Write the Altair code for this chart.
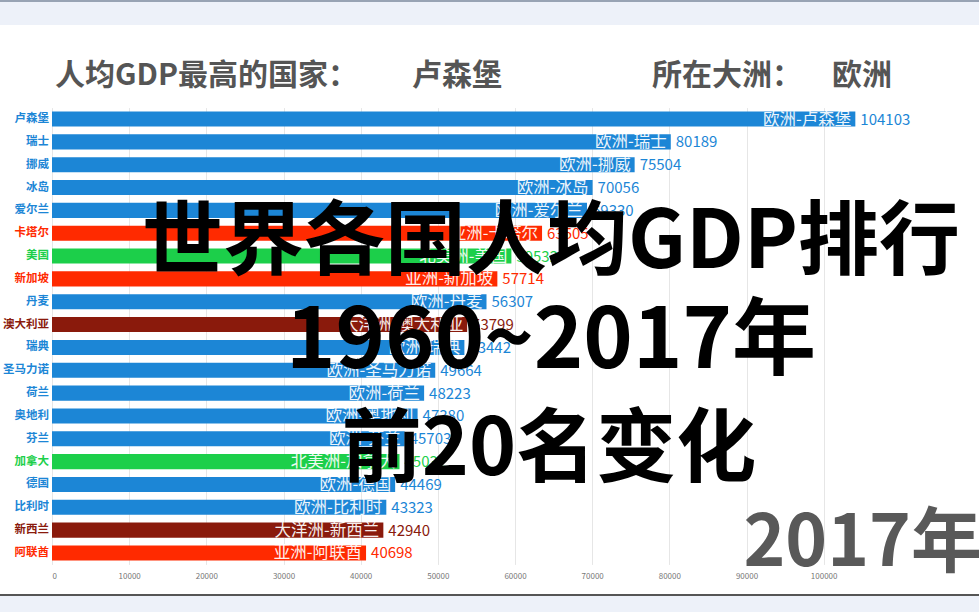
import altair as alt
import pandas as pd

countries = ["卢森堡", "瑞士", "挪威", "冰岛", "爱尔兰", "卡塔尔", "美国", "新加坡", "丹麦", "澳大利亚",
             "瑞典", "圣马力诺", "荷兰", "奥地利", "芬兰", "加拿大", "德国", "比利时", "新西兰", "阿联酋"]
values = [104103, 80189, 75504, 70056, 69330, 63505, 59532, 57714, 56307, 53799,
          53442, 49664, 48223, 47380, 45703, 45032, 44469, 43323, 42940, 40698]
continents = ["欧洲", "欧洲", "欧洲", "欧洲", "欧洲", "亚洲", "北美洲", "亚洲", "欧洲", "大洋洲",
              "欧洲", "欧洲", "欧洲", "欧洲", "欧洲", "北美洲", "欧洲", "欧洲", "大洋洲", "亚洲"]
continent_names = ["欧洲", "亚洲", "北美洲", "大洋洲"]
continent_colors = ["#1c86d6", "#ff2a00", "#1ccf4a", "#8a1a0c"]
x_ticks = [0, 10000, 20000, 30000, 40000, 50000, 60000, 70000, 80000, 90000, 100000]

df = pd.DataFrame({"country": countries, "value": values, "continent": continents})
df["label"] = df["continent"] + "-" + df["country"]

FONT = "Noto Sans CJK SC"
OX, OY = 52, 107.6
W, H = 926, 456.8

color = alt.Color("continent:N", scale=alt.Scale(domain=continent_names, range=continent_colors), legend=None)
y = alt.Y("country:N", sort=countries, axis=None,
          scale=alt.Scale(paddingInner=0.34, paddingOuter=0.17))
x = alt.X("value:Q", scale=alt.Scale(domain=[0, 120000], nice=False),
          axis=alt.Axis(values=x_ticks, title=None, domain=False, ticks=False, grid=True, format="d",
                        gridColor="#e6e6e6", labelFontSize=8, labelColor="#777777",
                        labelPadding=8, labelFont=FONT))

base = alt.Chart(df)
bars = base.mark_bar().encode(x=x, y=y, color=color)
inner = base.mark_text(align="right", dx=-4, dy=0.5, fontSize=16.5, font=FONT, color="#ffffff", opacity=0.92).encode(
    x="value:Q", y=y, text="label:N")
vals = base.mark_text(align="left", dx=5, dy=0.5, fontSize=15, font=FONT).encode(
    x="value:Q", y=y, text="value:Q", color=color)
ylabels = base.mark_text(align="right", fontSize=11.5, font=FONT, fontWeight="bold").encode(
    x=alt.value(-3), y=y, text="country:N", color=color)

one = pd.DataFrame({"k": [0]})

def rect(x1, x2, y1, y2, fill):
    return alt.Chart(one).mark_rect(color=fill).encode(
        x=alt.value(x1 - OX), x2=alt.value(x2 - OX), y=alt.value(y1 - OY), y2=alt.value(y2 - OY))

def txt(s, ax, ay, size, col, align="left", weight="bold"):
    return alt.Chart(pd.DataFrame({"t": [s]})).mark_text(
        align=align, baseline="alphabetic", fontSize=size, font=FONT, fontWeight=weight, color=col
    ).encode(x=alt.value(ax - OX), y=alt.value(ay - OY), text="t:N")

bands = [
    rect(0, 979, 0, 25, "#edf1f9"),
    rect(0, 979, 0, 2, "#98a3b4"),
    rect(0, 979, 594, 596, "#555555"),
    rect(0, 979, 596, 612, "#edf1f9"),
]

texts = [
    txt("人均GDP最高的国家：", 55, 85, 30, "#555555"),
    txt("卢森堡", 412, 85, 30, "#555555"),
    txt("所在大洲：", 652, 85, 30, "#555555"),
    txt("欧洲", 832, 85, 30, "#555555"),
    txt("2017年", 982, 566, 71, "#595959", align="right"),
    txt("世界各国人均GDP排行", 551, 268, 81, "#000000", align="center"),
    txt("1960~2017年", 551, 368, 84, "#000000", align="center"),
    txt("前20名变化", 549, 475, 80, "#000000", align="center"),
]

chart = alt.layer(bars, inner, vals, ylabels, *bands, *texts).properties(
    width=W, height=H,
    padding={"left": OX, "top": OY, "right": 1, "bottom": 612 - OY - H},
    autosize=alt.AutoSizeParams(type="none"),
    background="#ffffff",
).configure_view(stroke=None)

chart.save("out.html", embed_options={"renderer": "svg", "actions": False})
